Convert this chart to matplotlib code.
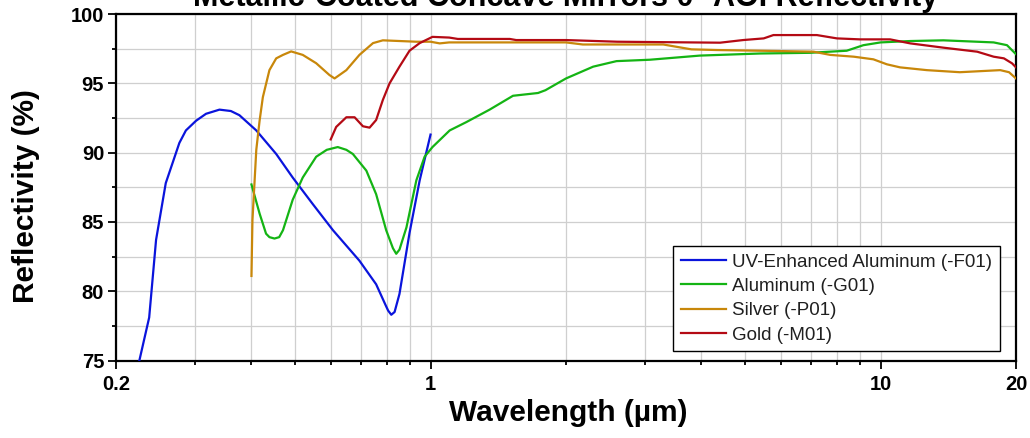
import matplotlib
matplotlib.use("Agg")
import matplotlib.pyplot as plt
from matplotlib.ticker import FixedLocator, NullFormatter, FixedFormatter, MultipleLocator

plt.rcParams['font.family'] = ['Liberation Sans', 'DejaVu Sans']

# ---- data ----
uv_wl = [0.2254, 0.237, 0.2455, 0.258, 0.2766, 0.286, 0.3013, 0.317, 0.3396, 0.36, 0.376, 0.41,
         0.454, 0.494, 0.547, 0.607, 0.695, 0.757, 0.797, 0.805, 0.818, 0.832, 0.853, 0.898,
         0.946, 1.0]
uv_r = [75.0, 78.1, 83.7, 87.8, 90.7, 91.6, 92.3, 92.8, 93.1, 93.0, 92.7, 91.6,
        89.9, 88.2, 86.3, 84.4, 82.2, 80.5, 78.9, 78.6, 78.3, 78.5, 79.8, 84.2,
        88.0, 91.3]

al_wl = [0.4, 0.417, 0.431, 0.4385, 0.45, 0.461, 0.47, 0.494, 0.52, 0.557, 0.588, 0.622,
         0.65, 0.672, 0.72, 0.757, 0.797, 0.825, 0.839, 0.853, 0.884, 0.93, 0.97, 1.01,
         1.103, 1.201, 1.353, 1.525, 1.733, 1.8, 2.0, 2.298, 2.59, 3.07, 3.97, 5.4, 6.97,
         8.41, 9.16, 10.0, 11.64, 13.8, 17.84, 19.1, 20.0]
al_r = [87.7, 85.6, 84.15, 83.9, 83.8, 83.9, 84.4, 86.6, 88.2, 89.7, 90.2, 90.4,
        90.2, 89.9, 88.7, 87.0, 84.4, 83.1, 82.7, 83.0, 84.6, 88.0, 89.7, 90.4,
        91.6, 92.2, 93.1, 94.1, 94.3, 94.5, 95.35, 96.2, 96.6, 96.7, 97.0, 97.15, 97.2,
        97.35, 97.75, 97.95, 98.05, 98.1, 97.95, 97.75, 97.1]

ag_wl = [0.4, 0.402, 0.41, 0.417, 0.424, 0.4385, 0.454, 0.47, 0.49, 0.52, 0.557, 0.596, 0.612,
         0.65, 0.695, 0.745, 0.7835, 0.93, 1.0, 1.048, 1.1, 2.0, 2.18, 3.29, 3.57, 3.8,
         4.33, 5.88, 7.1, 7.73, 8.72, 9.64, 10.33, 11.05, 12.67, 15.0, 18.45, 19.3, 20.0]
ag_r = [81.1, 85.1, 90.2, 92.3, 94.0, 95.95, 96.8, 97.05, 97.3, 97.05, 96.45, 95.6, 95.35,
        95.95, 97.05, 97.9, 98.1, 98.0, 98.0, 97.88, 97.95, 97.95, 97.8, 97.8, 97.6, 97.45,
        97.4, 97.33, 97.28, 97.05, 96.92, 96.73, 96.37, 96.15, 95.95, 95.8, 95.95, 95.8, 95.35]

au_wl = [0.6, 0.617, 0.65, 0.678, 0.7075, 0.732, 0.757, 0.7835, 0.811, 0.853, 0.898, 0.946,
         1.01, 1.1, 1.15, 1.5, 1.55, 2.0, 2.6, 4.4, 4.95, 5.5, 5.78, 7.22, 8.0, 9.0, 10.5,
         11.64, 13.8, 16.4, 17.84, 18.8, 19.6, 20.0]
au_r = [90.95, 91.85, 92.55, 92.55, 91.9, 91.8, 92.35, 93.8, 95.0, 96.2, 97.35, 97.9,
        98.35, 98.3, 98.2, 98.2, 98.12, 98.12, 98.0, 97.93, 98.12, 98.24, 98.48, 98.48, 98.24,
        98.17, 98.17, 97.88, 97.57, 97.28, 96.92, 96.8, 96.44, 96.15]

labels = ["UV-Enhanced Aluminum (-F01)", "Aluminum (-G01)", "Silver (-P01)", "Gold (-M01)"]
colors = ["#0a14dc", "#14b414", "#c8870a", "#b40a14"]

x_major = [0.2, 1, 10, 20]
x_major_labels = ["0.2", "1", "10", "20"]
x_minor = [0.3, 0.4, 0.5, 0.6, 0.7, 0.8, 0.9, 2, 3, 4, 5, 6, 7, 8, 9]

title = "Metallic-Coated Concave Mirrors 0° AOI Reflectivity"

# ---- figure ----
fig = plt.figure(figsize=(10.30, 4.38), dpi=100)
ax = fig.add_axes([116/1030, 1 - 360.5/438, 900/1030, 346.5/438])

series = [(uv_wl, uv_r), (al_wl, al_r), (ag_wl, ag_r), (au_wl, au_r)]
for (wl, r), lab, c in zip(series, labels, colors):
    ax.plot(wl, r, color=c, lw=1.6, label=lab, zorder=3)

ax.set_xscale('log')
ax.set_xlim(0.2, 20)
ax.set_ylim(75, 100)
ax.xaxis.set_major_locator(FixedLocator(x_major))
ax.xaxis.set_major_formatter(FixedFormatter(x_major_labels))
ax.xaxis.set_minor_locator(FixedLocator(x_minor))
ax.xaxis.set_minor_formatter(NullFormatter())
ax.yaxis.set_major_locator(MultipleLocator(5))
ax.yaxis.set_minor_locator(MultipleLocator(2.5))

ax.grid(True, which='both', color='#cfcfcf', lw=0.9, zorder=0)
ax.set_axisbelow(True)

for s in ax.spines.values():
    s.set_linewidth(1.6)
    s.set_color('black')

ax.tick_params(axis='both', which='major', direction='out', length=5.5, width=1.3,
               labelsize=14.5, pad=3)
ax.tick_params(axis='both', which='minor', direction='out', length=3, width=1.3)
ax.tick_params(axis='x', which='major', pad=5)
for lbl in ax.get_xticklabels() + ax.get_yticklabels():
    lbl.set_fontweight('bold')

ax.set_title(title, fontsize=22, fontweight='bold', pad=6)
ax.set_xlabel("Wavelength (µm)", fontsize=21.5, fontweight='bold')
ax.set_ylabel("Reflectivity (%)", fontsize=21.5, fontweight='bold')
ax.xaxis.set_label_coords(0.502, -0.112)
ax.yaxis.set_label_coords(-0.084, 0.475)

leg = ax.legend(loc='lower right', bbox_to_anchor=(0.982, 0.0274), borderaxespad=0,
                fontsize=13.5, frameon=True, fancybox=False, shadow=False,
                handlelength=2.4, handletextpad=0.35, labelspacing=0.38, borderpad=0.4,
                labelcolor='#202020')
leg.get_frame().set_edgecolor('black')
leg.get_frame().set_linewidth(1.0)
leg.get_frame().set_alpha(1)

fig.savefig("out.png", dpi=100)
